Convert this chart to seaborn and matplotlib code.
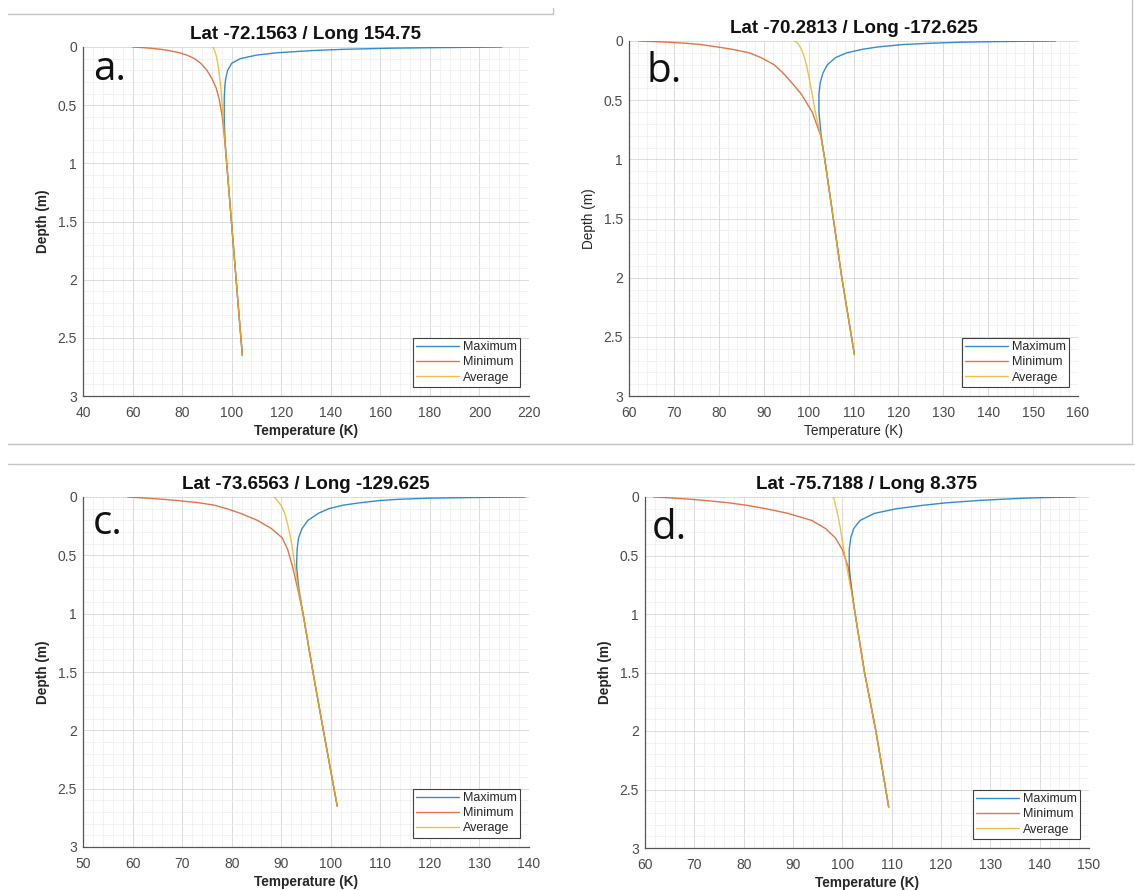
import numpy as np
import pandas as pd
import seaborn as sns
import matplotlib.pyplot as plt
from matplotlib.ticker import MultipleLocator, FuncFormatter
from matplotlib.lines import Line2D

# depth grid (m), shared by every profile
depth = [0, 0.005, 0.01, 0.02, 0.03, 0.05, 0.07, 0.1, 0.14, 0.2, 0.27, 0.35, 0.45, 0.6, 0.8, 1.0, 1.5, 2.0, 2.65]

# temperatures (K)
max_a = [209, 185, 165, 145, 133, 118, 110, 103.5, 100, 98.4, 97.6, 97.2, 97.0, 97.0, 97.3, 98.0, 99.9, 101.8, 104.3]
min_a = [60, 64, 67, 71.5, 74.5, 79, 82, 85, 87.5, 90, 92, 93.7, 95.0, 96.2, 97.2, 98.0, 99.9, 101.8, 104.3]
avg_a = [92.5, 92.6, 92.7, 92.9, 93.1, 93.4, 93.7, 94.0, 94.4, 94.8, 95.2, 95.6, 96.0, 96.5, 97.2, 98.0, 99.9, 101.8, 104.3]

max_b = [155, 142, 134, 126.5, 121, 115.5, 112, 108.5, 106, 104.2, 103.2, 102.6, 102.3, 102.3, 102.8, 103.6, 105.5, 107.4, 110.2]
min_b = [62.2, 65.5, 68.5, 73, 76, 79.6, 83, 86.8, 89.4, 92.3, 94.3, 96.2, 98.4, 100.8, 102.7, 103.6, 105.5, 107.4, 110.2]
avg_b = [96.9, 97.1, 97.3, 97.6, 97.8, 98.1, 98.4, 98.7, 99.1, 99.5, 99.9, 100.3, 100.8, 101.5, 102.7, 103.6, 105.5, 107.4, 110.2]

max_c = [139.2, 128, 120, 113.5, 110, 105.8, 102.5, 99.6, 97.5, 95.4, 94.2, 93.5, 93.2, 93.1, 93.6, 94.4, 96.4, 98.5, 101.3]
min_c = [59, 61, 63, 66.2, 69, 73.5, 76.5, 79, 81.8, 85.2, 88, 90.2, 91.3, 92.3, 93.4, 94.4, 96.4, 98.5, 101.3]
avg_c = [88.6, 88.7, 88.8, 89.0, 89.2, 89.6, 89.9, 90.3, 90.7, 91.1, 91.5, 91.9, 92.3, 92.8, 93.5, 94.4, 96.4, 98.5, 101.3]

max_d = [147.2, 141, 137, 132, 127.5, 121, 116.5, 111, 106.5, 103.6, 102.3, 101.7, 101.4, 101.4, 101.9, 102.6, 104.5, 106.8, 109.4]
min_d = [61.7, 64, 66, 69.5, 72.3, 77, 80.5, 84.5, 89, 93.8, 96.6, 98.6, 100.0, 101.2, 101.9, 102.6, 104.5, 106.8, 109.4]
avg_d = [98.2, 98.2, 98.3, 98.3, 98.4, 98.5, 98.6, 98.8, 99.0, 99.3, 99.6, 99.9, 100.3, 100.9, 101.8, 102.6, 104.5, 106.8, 109.4]

series_names = ['Maximum', 'Minimum', 'Average']
titles = ['Lat -72.1563 / Long 154.75', 'Lat -70.2813 / Long -172.625',
          'Lat -73.6563 / Long -129.625', 'Lat -75.7188 / Long 8.375']
letters = ['a.', 'b.', 'c.', 'd.']
xlims = [(40, 220), (60, 160), (50, 140), (60, 150)]
xsteps = [20, 10, 10, 10]
profiles = [(max_a, min_a, avg_a), (max_b, min_b, avg_b),
            (max_c, min_c, avg_c), (max_d, min_d, avg_d)]

palette = {'Maximum': '#0072BD', 'Minimum': '#D95319', 'Average': '#EDB120'}

sns.set_theme(style='white')
plt.rcParams['font.family'] = ['Liberation Sans', 'DejaVu Sans']

W, H = 1135, 890
fig = plt.figure(figsize=(W / 100, H / 100), dpi=100)

# axes boxes in pixels: left, top, right, bottom
boxes = [(83, 47, 529, 396), (629, 41, 1078, 396),
         (83, 497, 529, 847), (645, 497, 1089, 848)]
letter_pos = [(0.022, 0.905), (0.038, 0.885), (0.022, 0.895), (0.016, 0.880)]
bold_labels = [True, False, True, True]

for i in range(4):
    l, t, r, b = boxes[i]
    ax = fig.add_axes([l / W, 1 - b / H, (r - l) / W, (b - t) / H])

    mx, mn, av = profiles[i]
    df = pd.DataFrame({
        'depth': depth * 3,
        'temp': mx + mn + av,
        'series': np.repeat(series_names, len(depth)),
    })
    sns.lineplot(data=df, x='temp', y='depth', hue='series', hue_order=series_names,
                 palette=palette, sort=False, estimator=None, lw=1.0, alpha=0.8, ax=ax)

    ax.set_xlim(*xlims[i])
    ax.set_ylim(3, 0)
    ax.xaxis.set_major_locator(MultipleLocator(xsteps[i]))
    ax.xaxis.set_minor_locator(MultipleLocator(xsteps[i] / 5))
    ax.yaxis.set_major_locator(MultipleLocator(0.5))
    ax.yaxis.set_minor_locator(MultipleLocator(0.1))
    ax.yaxis.set_major_formatter(FuncFormatter(lambda v, p: f'{v:g}'))

    ax.grid(which='major', color='#d6d6d6', lw=0.6)
    ax.grid(which='minor', color='#ededed', lw=0.5)
    ax.set_axisbelow(True)
    for s in ['top', 'right']:
        ax.spines[s].set_visible(False)
    for s in ['left', 'bottom']:
        ax.spines[s].set_color('#555555')
        ax.spines[s].set_linewidth(0.9)
    ax.tick_params(which='major', direction='in', length=4, width=0.7,
                   colors='#555555', labelsize=10, labelcolor='#4a4a4a')
    ax.tick_params(axis='x', which='major', pad=7)
    ax.tick_params(axis='y', which='major', pad=4.5)
    ax.tick_params(which='minor', length=0)

    weight = 'bold' if bold_labels[i] else 'normal'
    ax.set_xlabel('Temperature (K)', fontsize=9.8, fontweight=weight, color='#262626', labelpad=3)
    ax.set_ylabel('Depth (m)', fontsize=9.8, fontweight=weight, color='#262626', labelpad=5)
    ax.set_title(titles[i], fontsize=13.5, fontweight='bold', color='#111111', pad=6)

    ax.text(letter_pos[i][0], letter_pos[i][1], letters[i], transform=ax.transAxes,
            fontsize=29, family=['Open Sans', 'DejaVu Sans'], color='#111111', va='baseline')

    leg = ax.get_legend()
    handles = leg.legend_handles
    labels = [tx.get_text() for tx in leg.get_texts()]
    ax.legend(handles, labels, loc='lower right', frameon=True, fancybox=False,
              edgecolor='#404040', framealpha=1, fontsize=9, handlelength=3.4,
              borderpad=0.3, labelspacing=0.25, handletextpad=0.3, borderaxespad=0.7)
    ax.get_legend().get_frame().set_linewidth(0.8)

# thin separator lines of the composed figure
def px_line(xs, ys):
    fig.add_artist(Line2D([x / W for x in xs], [1 - y / H for y in ys],
                          color='#c4c4c4', lw=1.0))

px_line([8, 553, 553], [14, 14, 8])
px_line([1132, 1132], [0, 444])
px_line([8, 1132], [444, 444])
px_line([8, 1135], [464, 464])

fig.savefig('out.png', dpi=100)
